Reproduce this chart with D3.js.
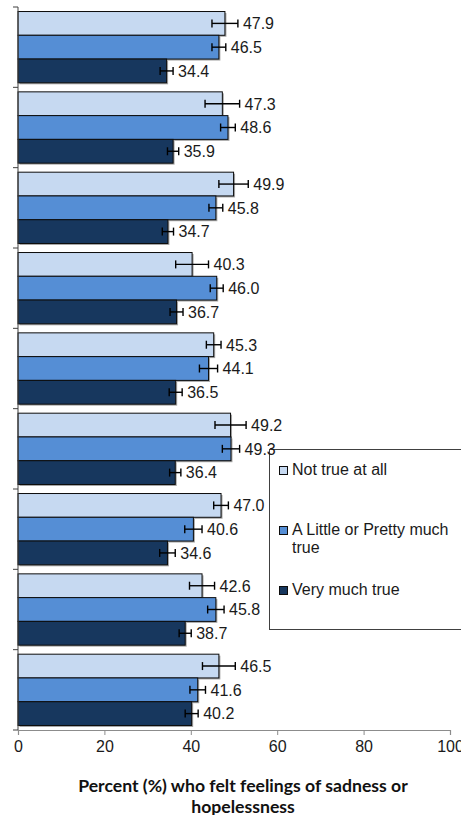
<!DOCTYPE html>
<html><head><meta charset="utf-8">
<script src="https://cdn.jsdelivr.net/npm/d3@7/dist/d3.min.js"></script>
<style>
html,body{margin:0;padding:0;background:#fff;}
svg{display:block;}
</style></head>
<body>
<svg id="chart" width="461" height="815"></svg>
<script>
// ---- data ----
const categories = ["Group 1","Group 2","Group 3","Group 4","Group 5","Group 6","Group 7","Group 8","Group 9"];
const seriesNames = ["Not true at all", "A Little or Pretty much true", "Very much true"];
const notTrueAtAll = [47.9, 47.3, 49.9, 40.3, 45.3, 49.2, 47.0, 42.6, 46.5];
const littleOrPretty = [46.5, 48.6, 45.8, 46.0, 44.1, 49.3, 40.6, 45.8, 41.6];
const veryMuchTrue = [34.4, 35.9, 34.7, 36.7, 36.5, 36.4, 34.6, 38.7, 40.2];
const errNotTrue = [3.0, 4.0, 3.4, 3.8, 1.7, 3.6, 1.7, 2.9, 3.8];
const errLittle = [1.6, 1.7, 1.6, 1.5, 2.1, 2.0, 2.0, 1.9, 1.8];
const errVery = [1.5, 1.3, 1.3, 1.5, 1.5, 1.3, 1.8, 1.4, 1.5];
const xTicks = [0, 20, 40, 60, 80, 100];
const axisTitle = ["Percent (%) who felt feelings of sadness or", "hopelessness"];

const colors = ["#C6D9F1", "#558ED5", "#17375E"];
const values = [notTrueAtAll, littleOrPretty, veryMuchTrue];
const errors = [errNotTrue, errLittle, errVery];

const rows = [];
categories.forEach((c, i) => {
  seriesNames.forEach((s, j) => {
    rows.push({cat: c, series: s, si: j, value: values[j][i], err: errors[j][i]});
  });
});

const svg = d3.select("#chart");
const pLeft = 18, pRight = 450, pTop = 7, pBottom = 730;
const x = d3.scaleLinear().domain([0, 100]).range([pLeft, pRight]);
const y0 = d3.scaleBand().domain(categories).range([pTop, pBottom]).paddingInner(0).paddingOuter(0);
const y1 = d3.scaleBand().domain(seriesNames).range([0, y0.bandwidth()]).paddingInner(0).paddingOuter(0.19);

const g = svg.append("g");

// shadows
g.selectAll("rect.shadow").data(rows).join("rect")
  .attr("class", "shadow")
  .attr("x", x(0) + 1.5)
  .attr("y", d => y0(d.cat) + y1(d.series) + 1.5)
  .attr("width", d => x(d.value) - x(0))
  .attr("height", y1.bandwidth())
  .attr("fill", "#a6a6a6");

// bars
g.selectAll("rect.bar").data(rows).join("rect")
  .attr("class", "bar")
  .attr("x", x(0))
  .attr("y", d => y0(d.cat) + y1(d.series))
  .attr("width", d => x(d.value) - x(0))
  .attr("height", y1.bandwidth())
  .attr("fill", d => colors[d.si])
  .attr("stroke", "#0d0d0d")
  .attr("stroke-width", 1);

// axes
const xAxis = d3.axisBottom(x).tickValues(xTicks).tickSize(5).tickPadding(6).tickFormat(d3.format("d"));
const xg = svg.append("g").attr("transform", `translate(0,${pBottom})`).call(xAxis);
xg.select(".domain").attr("stroke", "#8c8c8c").attr("stroke-width", 1.2);
xg.selectAll(".tick line").attr("stroke", "#8c8c8c");
xg.selectAll(".tick text").attr("font-family", "'Liberation Sans', Arial, sans-serif").attr("font-size", 16).attr("fill", "#1a1a1a");

// y axis: ticks at group boundaries
const yBounds = categories.map(c => y0(c)).concat([pBottom]);
const yg = svg.append("g");
yg.append("line").attr("x1", pLeft).attr("x2", pLeft).attr("y1", pTop).attr("y2", pBottom)
  .attr("stroke", "#404040").attr("stroke-width", 1);
yg.selectAll("line.yt").data(yBounds).join("line").attr("class", "yt")
  .attr("x1", pLeft - 5).attr("x2", pLeft).attr("y1", d => d).attr("y2", d => d)
  .attr("stroke", "#404040").attr("stroke-width", 1);

// error bars
const eg = svg.append("g").attr("stroke", "#000").attr("stroke-width", 1.4);
rows.forEach(d => {
  const cy = y0(d.cat) + y1(d.series) + y1.bandwidth() / 2;
  const xl = x(d.value - d.err), xr = x(d.value + d.err);
  eg.append("line").attr("x1", xl).attr("x2", xr).attr("y1", cy).attr("y2", cy);
  eg.append("line").attr("x1", xl).attr("x2", xl).attr("y1", cy - 4).attr("y2", cy + 4);
  eg.append("line").attr("x1", xr).attr("x2", xr).attr("y1", cy - 4).attr("y2", cy + 4);
});

// legend
const lg = svg.append("g");
lg.append("rect").attr("x", 269.5).attr("y", 449.5).attr("width", 200).attr("height", 180)
  .attr("fill", "#fff").attr("stroke", "#404040").attr("stroke-width", 1);
const legendItems = [
  {lines: ["Not true at all"], base: 475},
  {lines: ["A Little or Pretty much", "true"], base: 535},
  {lines: ["Very much true"], base: 595}
];
legendItems.forEach((it, i) => {
  lg.append("rect").attr("x", 279.5).attr("y", it.base - 8.5).attr("width", 8).attr("height", 8)
    .attr("fill", colors[i]).attr("stroke", "#0d0d0d").attr("stroke-width", 1);
  const t = lg.append("text").attr("x", 292).attr("y", it.base)
    .attr("font-family", "'Liberation Sans', Arial, sans-serif").attr("font-size", 16).attr("fill", "#1a1a1a");
  it.lines.forEach((ln, k) => {
    t.append("tspan").attr("x", 292).attr("dy", k === 0 ? 0 : 18.3).text(ln);
  });
});

// value labels
svg.append("g").selectAll("text").data(rows).join("text")
  .attr("x", d => Math.max(x(d.value + d.err), x(d.value)) + 5)
  .attr("y", d => y0(d.cat) + y1(d.series) + y1.bandwidth() / 2 + 5.8)
  .attr("font-family", "'Liberation Sans', Arial, sans-serif")
  .attr("font-size", 16)
  .attr("fill", "#1a1a1a")
  .text(d => d.value.toFixed(1));

// axis title
const tt = svg.append("text").attr("text-anchor", "middle")
  .attr("font-family", "Lato, 'Open Sans', sans-serif").attr("font-weight", "bold")
  .attr("font-size", 16).attr("fill", "#111");
const spans = axisTitle.map((ln, k) =>
  tt.append("tspan").attr("x", 243).attr("y", k === 0 ? 791.5 : 813).text(ln));
const w0 = spans[0].node().getComputedTextLength();
if (w0 > 0) tt.attr("font-size", Math.min(18, 16 * 330 / w0));
</script>
</body></html>
